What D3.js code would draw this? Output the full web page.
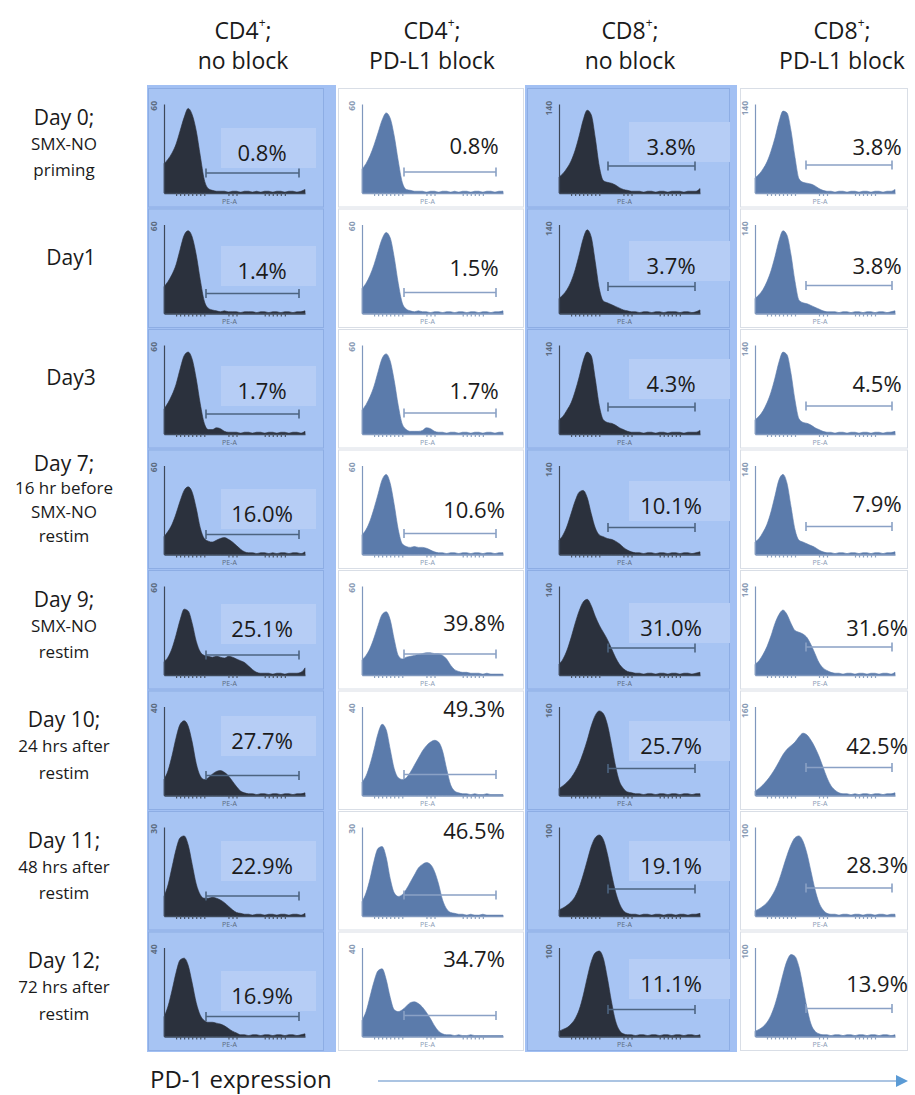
<!DOCTYPE html>
<html>
<head>
<meta charset="utf-8">
<script src="https://cdn.jsdelivr.net/npm/d3@7"></script>
<style>
  html, body { margin: 0; padding: 0; background: #ffffff; }
  svg { display: block; }
  text { font-family: "Open Sans", "Noto Sans", sans-serif; }
</style>
</head>
<body>
<svg id="fig" width="915" height="1095"></svg>
<script>
// ---- column and row headings ----
const colMarkers = ["CD4", "CD4", "CD8", "CD8"];
const colTreatments = ["no block", "PD-L1 block", "no block", "PD-L1 block"];
const rowDays = ["Day 0;", "Day1", "Day3", "Day 7;", "Day 9;", "Day 10;", "Day 11;", "Day 12;"];
const rowNotes = [
  ["SMX-NO", "priming"],
  [],
  [],
  ["16 hr before", "SMX-NO", "restim"],
  ["SMX-NO", "restim"],
  ["24 hrs after", "restim"],
  ["48 hrs after", "restim"],
  ["72 hrs after", "restim"]
];

// ---- % PD-1+ events inside the gate, per day ----
const pctCD4NoBlock = [0.8, 1.4, 1.7, 16.0, 25.1, 27.7, 22.9, 16.9];
const pctCD4Block   = [0.8, 1.5, 1.7, 10.6, 39.8, 49.3, 46.5, 34.7];
const pctCD8NoBlock = [3.8, 3.7, 4.3, 10.1, 31.0, 25.7, 19.1, 11.1];
const pctCD8Block   = [3.8, 3.8, 4.5, 7.9, 31.6, 42.5, 28.3, 13.9];

// ---- y-axis maximum (event count) shown on each histogram ----
const yMaxCD4 = [60, 60, 60, 60, 60, 40, 30, 40];
const yMaxCD8 = [140, 140, 140, 140, 140, 160, 100, 100];

// ---- PE-A histograms: event count per channel bin, as % of the axis maximum ----
const histCD4NoBlock = [
  [33,38,45,55,70,85,95,88,70,42,15,5,3,2,2,2,1,2,2,1,2,2,1,2,1,2,2,1,2,2,1,2,2,1,2,4],
  [30,36,44,55,72,88,93,86,66,38,14,6,4,3,2,3,2,2,2,1,2,2,2,1,2,2,1,2,2,1,2,2,1,2,2,3],
  [28,35,44,56,73,88,92,84,62,34,12,5,5,7,6,3,2,2,2,1,2,2,1,2,2,1,2,2,1,2,2,1,2,2,1,3],
  [20,26,34,46,60,72,76,70,52,30,18,15,14,16,18,19,17,14,10,6,3,2,2,1,2,2,1,2,1,2,2,1,2,2,1,3],
  [15,20,30,45,62,74,72,58,38,26,22,21,20,21,20,19,21,20,18,16,14,10,6,3,2,2,2,1,2,2,1,2,2,2,3,8],
  [18,28,45,65,80,84,78,60,36,22,18,20,24,27,28,26,22,16,10,5,3,2,2,1,2,2,1,2,2,1,2,2,1,2,2,3],
  [22,35,55,75,88,90,80,58,36,24,20,20,21,20,18,15,11,7,4,3,2,2,1,2,2,1,2,2,1,2,2,1,2,2,1,3],
  [22,34,52,72,86,88,80,60,38,24,18,16,16,15,14,12,9,6,4,2,2,1,2,2,1,2,2,1,2,2,1,2,2,1,2,3]
];
const histCD4Block = [
  [27,33,42,54,68,82,90,84,64,36,12,4,3,2,2,2,1,2,2,1,2,2,1,2,1,2,2,1,2,2,1,2,2,1,2,2],
  [28,34,43,55,70,84,91,85,63,34,12,5,3,2,3,2,2,1,2,2,1,2,2,1,2,2,1,2,2,1,2,2,1,2,2,3],
  [27,33,42,54,70,85,90,82,60,32,11,5,3,3,3,4,7,6,3,2,2,1,2,2,1,2,2,1,2,2,1,2,2,1,2,2],
  [22,28,38,52,68,84,90,80,56,28,12,9,8,9,8,8,7,5,3,2,2,1,2,2,1,2,2,1,2,2,1,2,2,1,2,2],
  [17,22,30,42,56,68,71,62,40,22,18,20,21,22,23,24,25,25,24,24,22,18,11,6,4,3,3,2,2,2,1,2,1,1,1,1],
  [15,22,35,52,70,80,74,52,30,20,18,20,26,34,42,50,56,60,62,60,50,30,12,5,3,2,2,1,2,1,1,2,1,1,1,1],
  [16,26,42,62,76,78,66,42,26,22,24,30,38,46,54,58,60,58,50,36,18,8,4,3,2,2,1,2,1,1,2,1,1,1,1,1],
  [18,28,45,62,74,76,64,44,30,28,30,34,38,39,37,33,27,20,12,6,3,2,2,1,2,1,1,2,1,1,1,1,1,1,1,1]
];
const histCD8NoBlock = [
  [18,22,28,36,48,64,82,93,88,62,30,14,12,11,9,6,4,3,2,2,2,1,2,2,1,2,2,1,2,2,2,1,2,2,2,5],
  [17,21,27,36,49,66,84,94,86,58,28,14,12,10,8,6,4,3,2,2,1,2,2,1,2,2,1,2,2,2,1,2,2,1,2,4],
  [16,20,27,35,48,64,82,92,88,62,32,16,13,12,10,7,5,3,2,2,2,1,2,2,1,2,2,1,2,2,2,1,2,2,2,4],
  [16,22,32,46,60,70,72,64,46,30,22,20,18,17,15,12,8,5,3,2,2,1,2,2,1,2,2,1,2,2,1,2,2,1,2,3],
  [12,18,28,42,58,72,82,85,78,66,56,48,40,30,20,12,7,4,3,2,2,1,2,2,1,2,2,1,2,2,1,2,2,1,2,3],
  [8,11,15,20,27,36,48,62,78,90,95,92,80,58,34,16,8,4,3,2,2,1,2,2,1,2,2,1,2,2,1,2,2,1,2,2],
  [7,9,12,16,22,32,46,62,78,88,91,86,70,48,28,14,6,3,2,2,1,2,2,1,2,2,1,2,2,1,2,2,1,2,2,3],
  [6,8,10,14,20,30,46,66,84,94,96,88,66,40,18,7,3,2,2,1,2,2,1,2,2,1,2,2,1,2,2,1,2,2,1,2]
];
const histCD8Block = [
  [17,21,27,35,47,62,80,92,90,70,40,16,12,11,10,8,5,3,2,2,1,2,2,1,2,2,1,2,2,1,2,2,1,2,2,4],
  [17,21,27,36,48,64,82,93,88,66,36,15,12,11,9,7,5,3,2,2,2,1,2,2,1,2,2,1,2,2,1,2,2,1,2,3],
  [16,20,26,35,47,63,81,92,89,68,38,17,13,12,10,7,5,3,2,2,1,2,2,1,2,2,1,2,2,1,2,2,1,2,2,3],
  [14,18,25,34,48,66,84,90,80,54,28,16,14,12,10,8,5,3,2,2,1,2,2,1,2,2,1,2,2,1,2,2,1,2,2,3],
  [12,16,23,32,44,58,68,73,68,58,50,48,46,42,34,24,14,8,5,3,2,2,1,2,2,1,2,2,1,2,2,1,2,2,1,3],
  [5,8,12,17,23,30,38,46,52,56,60,66,70,68,62,54,44,32,20,11,6,3,2,2,1,2,1,2,2,1,2,2,1,2,2,3],
  [6,8,11,15,21,29,40,54,68,80,88,90,84,70,50,30,15,7,3,2,2,1,2,2,1,2,2,1,2,2,1,2,2,1,2,2],
  [6,8,11,16,24,36,52,70,85,92,90,78,56,32,14,6,3,2,2,1,2,2,1,2,2,1,2,2,1,2,2,1,2,2,1,2]
];

// minor tick positions along the PE-A axis (in channel-bin units)
const peTicks = [3, 4, 5, 6, 7, 8, 9, 10, 16, 17, 18, 25, 26, 27, 28, 29, 30];

const panelSets = [
  { pct: pctCD4NoBlock, hist: histCD4NoBlock, yMax: yMaxCD4 },
  { pct: pctCD4Block,   hist: histCD4Block,   yMax: yMaxCD4 },
  { pct: pctCD8NoBlock, hist: histCD8NoBlock, yMax: yMaxCD8 },
  { pct: pctCD8Block,   hist: histCD8Block,   yMax: yMaxCD8 }
];

// ---- layout ----
const rowTop0 = 87, rowPitch = 120.5, nRows = rowDays.length;
const rowTop = r => rowTop0 + r * rowPitch;

const palDark = { fill: "#2b313d", axis: "#3d4859", gate: "#4d6480", tick: "#4a5566", label: "#5c6b80" };
const palSteel = { fill: "#5b7bab", axis: "#7f97bd", gate: "#8aa1c5", tick: "#8aa0c0", label: "#8a9bb5" };

const cols = [
  { cx: 243, bg: [147, 336], frame: [148, 323], ax: [164, 305], gate: [206, 299], box: [221, 316], tx: 262, gateDy: 86, pal: palDark, blue: true,
    textDy: [65, 62.5, 62, 64.5, 59, 50.5, 55, 64.5] },
  { cx: 432, bg: null, frame: [338, 523], ax: [362, 503], gate: [404, 496], box: null, tx: 474, gateDy: 85, pal: palSteel, blue: false,
    textDy: [58, 59.5, 62, 60.5, 53, 18.5, 20, 27.5] },
  { cx: 630, bg: [525, 737], frame: [527, 729], ax: [559, 700], gate: [608, 695], box: [629, 730], tx: 671, gateDy: 79, pal: palDark, blue: true,
    textDy: [59, 57.5, 55, 56.5, 58, 55.5, 55, 52.5] },
  { cx: 842, bg: null, frame: [740, 907], ax: [755, 895], gate: [806, 892], box: null, tx: 877, gateDy: 78, pal: palSteel, blue: false,
    textDy: [59, 57.5, 55, 54.5, 58, 55.5, 54, 52.5] }
];

const svg = d3.select("#fig");

// column backgrounds
const gridBottom = rowTop(nRows) + 1;
cols.forEach(c => {
  if (c.bg) {
    svg.append("rect")
      .attr("x", c.bg[0]).attr("y", rowTop0 - 2)
      .attr("width", c.bg[1] - c.bg[0]).attr("height", gridBottom - rowTop0 + 2)
      .attr("fill", "#a2c0f3");
  }
});

// column headings
cols.forEach((c, i) => {
  const t = svg.append("text")
    .attr("x", c.cx).attr("y", 30)
    .attr("text-anchor", "middle").attr("dominant-baseline", "central")
    .attr("font-size", 23).attr("fill", "#1a1a1a");
  t.append("tspan").text(colMarkers[i]);
  t.append("tspan").text("+").attr("font-size", 12).attr("dy", -8);
  t.append("tspan").text(";").attr("dy", 8);
  svg.append("text")
    .attr("x", c.cx).attr("y", 60)
    .attr("text-anchor", "middle").attr("dominant-baseline", "central")
    .attr("font-size", 23).attr("fill", "#1a1a1a")
    .text(colTreatments[i]);
});

// row headings
rowDays.forEach((day, r) => {
  const lines = [day].concat(rowNotes[r]);
  const n = lines.length;
  const gap = n >= 4 ? 24 : 26.5;
  const center = n >= 4 ? 50.5 : (n === 1 ? 49 : 56);
  const start = rowTop(r) + center - (n - 1) * gap / 2;
  lines.forEach((s, k) => {
    svg.append("text")
      .attr("x", n === 1 ? 71 : 64)
      .attr("y", start + k * gap)
      .attr("text-anchor", "middle").attr("dominant-baseline", "central")
      .attr("font-size", k === 0 ? 21 : 17)
      .attr("fill", "#1a1a1a")
      .text(s);
  });
});

// histogram panels
const area = (x, y) => d3.area()
  .x((d, i) => x(i)).y0(y(0)).y1(d => y(d))
  .curve(d3.curveMonotoneX);

cols.forEach((c, ci) => {
  const set = panelSets[ci];
  for (let r = 0; r < nRows; r++) {
    const top = rowTop(r);
    const g = svg.append("g");
    const hist = set.hist[r];

    // panel frame
    g.append("rect")
      .attr("x", c.frame[0] + 0.5).attr("y", top + 1.5)
      .attr("width", c.frame[1] - c.frame[0]).attr("height", rowPitch - 2)
      .attr("fill", c.blue ? "#a7c4f3" : "#ffffff")
      .attr("stroke", c.blue ? "#8dade4" : "#d9dee6")
      .attr("stroke-width", 1);

    // light box behind the gate percentage
    if (c.box) {
      g.append("rect")
        .attr("x", c.box[0]).attr("y", top + c.textDy[r] - 24)
        .attr("width", c.box[1] - c.box[0]).attr("height", 40)
        .attr("fill", "#b6cdf5");
    }

    const x = d3.scaleLinear().domain([0, hist.length - 1]).range(c.ax);
    const y = d3.scaleLinear().domain([0, 100]).range([top + 106, top + 17]);

    g.append("path")
      .datum(hist)
      .attr("d", area(x, y))
      .attr("fill", c.pal.fill)
      .attr("stroke", c.pal.fill).attr("stroke-width", 0.6);

    // x axis (PE-A) with minor ticks
    const xAxis = d3.axisBottom(x).tickValues(peTicks).tickSize(3).tickSizeOuter(0).tickFormat("");
    const gx = g.append("g")
      .attr("transform", `translate(0,${top + 106})`)
      .attr("color", c.pal.axis)
      .call(xAxis);
    gx.select(".domain").attr("stroke-width", 1.6);
    gx.selectAll(".tick line").attr("stroke", c.pal.tick).attr("stroke-width", 1.2);

    g.append("text")
      .attr("x", (c.ax[0] + c.ax[1]) / 2 - 5).attr("y", top + 114)
      .attr("text-anchor", "middle").attr("dominant-baseline", "central")
      .attr("font-family", "DejaVu Sans Mono").attr("font-size", 7)
      .attr("fill", c.pal.label)
      .text("PE-A");

    // y axis with the maximum count label
    const yAxis = d3.axisLeft(y).tickValues([]).tickSizeOuter(0);
    g.append("g")
      .attr("transform", `translate(${c.ax[0]},0)`)
      .attr("color", c.pal.axis)
      .call(yAxis)
      .select(".domain").attr("stroke-width", 1.2);

    g.append("text")
      .attr("transform", `translate(${c.ax[0] - 7},${top + 14}) rotate(-90)`)
      .attr("text-anchor", "end")
      .attr("font-family", "DejaVu Sans Mono").attr("font-weight", "bold")
      .attr("font-size", 8.5)
      .attr("fill", c.pal.label)
      .text(set.yMax[r]);

    // PD-1+ gate
    const gy = top + c.gateDy;
    g.append("line")
      .attr("x1", c.gate[0]).attr("x2", c.gate[1])
      .attr("y1", gy).attr("y2", gy)
      .attr("stroke", c.pal.gate).attr("stroke-width", 1.6);
    [c.gate[0], c.gate[1]].forEach(gxp => {
      g.append("line")
        .attr("x1", gxp).attr("x2", gxp)
        .attr("y1", gy - 4.5).attr("y2", gy + 4.5)
        .attr("stroke", c.pal.gate).attr("stroke-width", 1.6);
    });

    // gate percentage
    g.append("text")
      .attr("x", c.tx).attr("y", top + c.textDy[r])
      .attr("text-anchor", "middle").attr("dominant-baseline", "central")
      .attr("font-size", 22).attr("fill", "#1b1b1b")
      .text(set.pct[r].toFixed(1) + "%");
  }
});

// PD-1 expression direction
svg.append("text")
  .attr("x", 150).attr("y", 1088)
  .attr("font-size", 24).attr("fill", "#1a1a1a")
  .text("PD-1 expression");

svg.append("line")
  .attr("x1", 378).attr("x2", 897)
  .attr("y1", 1081).attr("y2", 1081)
  .attr("stroke", "#8fb0d8").attr("stroke-width", 1.6);
svg.append("path")
  .attr("d", d3.line()([[896, 1075], [908, 1081], [896, 1087]]) + "Z")
  .attr("fill", "#5b9bd5");
</script>
</body>
</html>
